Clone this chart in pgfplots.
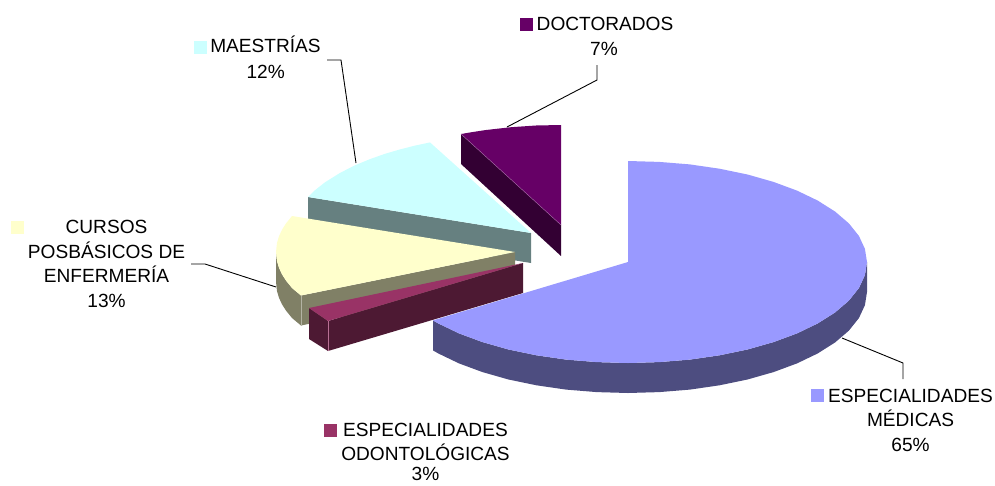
\documentclass[border=0pt]{standalone}
\usepackage{pgfplots}
\pgfplotsset{compat=1.18}
\usepackage{fontspec}
\setmainfont{Liberation Sans}
\definecolor{cMain}{HTML}{9999FF}
\definecolor{cMainS}{HTML}{4D4D80}
\definecolor{cMag}{HTML}{993366}
\definecolor{cMagS}{HTML}{4D1933}
\definecolor{cYel}{HTML}{FFFFCC}
\definecolor{cYelS}{HTML}{808066}
\definecolor{cCya}{HTML}{CCFFFF}
\definecolor{cCyaS}{HTML}{668080}
\definecolor{cDoc}{HTML}{660066}
\definecolor{cDocS}{HTML}{330033}
\tikzset{lab/.style={anchor=base,inner sep=0pt,font=\fontsize{19.1}{22}\selectfont,text=black}}
\pgfplotsset{face/.style={draw=none,mark=none,fill=#1},
  leader/.style={draw=black,line width=0.9pt,mark=none}}
\begin{document}
\begin{tikzpicture}
\useasboundingbox (0,0) rectangle (995pt,485pt);
\begin{axis}[at={(0,0)},anchor=south west,scale only axis,width=995pt,height=485pt,
  xmin=0,xmax=995,ymin=0,ymax=485,y dir=reverse,hide axis,clip=false]
% DOCTORADOS 7%
\addplot[face=cDocS] coordinates {(461,134)(461,164)(561,256)(561,225)};
\addplot[face=cDoc] coordinates {(561,225)(461,134)(473.5,131.9)(486,130)(511,127.2)(536,125.5)(561,125)};
\addplot[draw=cDoc!60!white,line width=0.4pt,mark=none] coordinates {(461,134)(561,225)};
% MAESTRIAS 12%
\addplot[face=cCyaS] coordinates {(308,197)(308,227)(531,263)(531,233)};
\addplot[face=cCya] coordinates {(531,233)(430,142.4)(415,145.6)(400,149.4)(385,153.8)(370,159.1)(355,165.3)(340,172.9)(325,182.3)(315,190.2)(308,197)};
% CURSOS 13%
\addplot[face=cYelS] coordinates {(276,252)(277,261.1)(279,267.8)(282,274.3)(286,280.6)(292,288)(301,295.5)(515,252)(515,282)(301,325.5)(292,318)(286,310.6)(282,304.3)(279,297.8)(277,291.1)(276,282)};
\addplot[face=cYel] coordinates {(515,252)(292,216)(286,223.4)(282,229.7)(279,236.2)(277,242.9)(276,252)(277,261.1)(279,267.8)(282,274.3)(286,280.6)(292,288)(301,295.5)};
\addplot[draw=cYelS!60!white,line width=0.4pt,mark=none] coordinates {(301,295.5)(301,325.5)};
% ODONTOLOGICAS 3%
\addplot[face=cMagS] coordinates {(309,308)(309,339)(328,351)(523,293)(523,263)(328,321)};
\addplot[face=cMag] coordinates {(523,263)(309,308)(328,321)};
\addplot[draw=cMag!70!white,line width=0.4pt,mark=none] coordinates {(328,321)(328,351)};
% MEDICAS 65%
\addplot[face=cMainS] coordinates {(867,262)(864.9,275.2)(858.9,288.1)(848.8,300.7)(835,312.5)(817.6,323.5)(797,333.4)(773.5,342.1)(747.5,349.5)(719.5,355.3)(689.9,359.6)(659.2,362.1)(628,363)(596.8,362.1)(566.1,359.6)(536.5,355.3)(508.5,349.5)(482.5,342.1)(459,333.4)(438.4,323.5)(433,320.4)(433,350.4)(438.4,353.5)(459,363.4)(482.5,372.1)(508.5,379.5)(536.5,385.3)(566.1,389.6)(596.8,392.1)(628,393)(659.2,392.1)(689.9,389.6)(719.5,385.3)(747.5,379.5)(773.5,372.1)(797,363.4)(817.6,353.5)(835,342.5)(848.8,330.7)(858.9,318.1)(864.9,305.2)(867,292)};
\addplot[face=cMain] coordinates {(628,262)(628,161)(659.2,161.9)(689.9,164.4)(719.5,168.7)(747.5,174.5)(773.5,181.9)(797,190.6)(817.6,200.5)(835,211.5)(848.8,223.3)(858.9,235.9)(864.9,248.8)(867,262)(864.9,275.2)(858.9,288.1)(848.8,300.7)(835,312.5)(817.6,323.5)(797,333.4)(773.5,342.1)(747.5,349.5)(719.5,355.3)(689.9,359.6)(659.2,362.1)(628,363)(596.8,362.1)(566.1,359.6)(536.5,355.3)(508.5,349.5)(482.5,342.1)(459,333.4)(438.4,323.5)(433,320.4)};
% leaders
\addplot[leader] coordinates {(597,65)(597,80)(507,127)};
\addplot[leader] coordinates {(327,60)(341,60)(356,163)};
\addplot[leader] coordinates {(191,264)(205,264)(276,287)};
\addplot[leader] coordinates {(842,338)(903,363)(903,379)};
% legend keys
\addplot[face=cDoc] coordinates {(519.5,17.5)(532.5,17.5)(532.5,30.5)(519.5,30.5)};
\addplot[face=cCya] coordinates {(194,40.5)(207,40.5)(207,53.5)(194,53.5)};
\addplot[face=cYel] coordinates {(11,221)(24,221)(24,234)(11,234)};
\addplot[face=cMain] coordinates {(811,389)(824,389)(824,402)(811,402)};
\addplot[face=cMag] coordinates {(324,424)(337,424)(337,437)(324,437)};
% labels
\node[lab] at (axis cs:605,30) {DOCTORADOS};
\node[lab] at (axis cs:604,55) {7\%};
\node[lab] at (axis cs:265.5,52.7) {MAESTRÍAS};
\node[lab] at (axis cs:265.7,78) {12\%};
\node[lab] at (axis cs:106.5,233) {CURSOS};
\node[lab] at (axis cs:106.5,258) {POSBÁSICOS DE};
\node[lab] at (axis cs:106.5,282) {ENFERMERÍA};
\node[lab] at (axis cs:106.5,307) {13\%};
\node[lab] at (axis cs:910.5,402) {ESPECIALIDADES};
\node[lab] at (axis cs:910.5,426.5) {MÉDICAS};
\node[lab] at (axis cs:910.5,451) {65\%};
\node[lab] at (axis cs:425.5,436) {ESPECIALIDADES};
\node[lab] at (axis cs:425.5,460.5) {ODONTOLÓGICAS};
\node[lab] at (axis cs:425.5,480.5) {3\%};
\end{axis}
\end{tikzpicture}
\end{document}
